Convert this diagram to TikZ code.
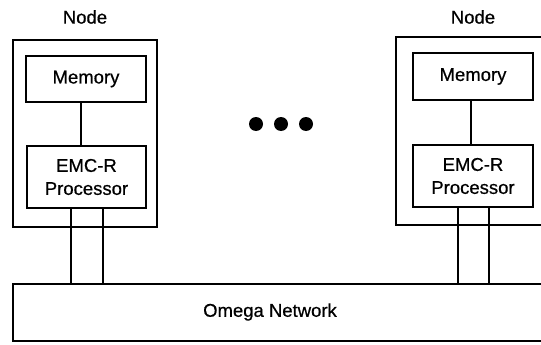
\documentclass[tikz,border=0pt]{standalone}
\usepackage{fontspec}
\setmainfont{Liberation Sans}[FakeBold=0.6]
\begin{document}
\begin{tikzpicture}[x=1pt,y=-1pt,
  box/.style={draw,line width=1.2pt,rectangle,inner sep=0pt},
  lbl/.style={font=\fontsize{18.5}{23}\selectfont,align=center,inner sep=0pt},
  wire/.style={line width=1.3pt},
  dot/.style={circle,fill=black,inner sep=0pt,minimum size=14pt}]
\useasboundingbox (0,0) rectangle (541,345);
\clip (0,0) rectangle (541,345);

% left node
\node[lbl] (lname) at (85,17) {Node};
\node[box,minimum width=144pt,minimum height=187pt] (lnode) at (85,133.5) {};
\node[box,lbl,minimum width=120pt,minimum height=46pt] (lmem) at (86,79) {Memory};
\node[box,lbl,minimum width=119pt,minimum height=62pt] (lproc) at (86.5,177) {EMC-R\\Processor};

% right node (runs past the right edge)
\node[lbl] (rname) at (473,17) {Node};
\node[box,minimum width=160pt,minimum height=188pt] (rnode) at (476,131) {};
\node[box,lbl,minimum width=120pt,minimum height=47pt] (rmem) at (473,76.5) {Memory};
\node[box,lbl,minimum width=120pt,minimum height=62pt] (rproc) at (473,176) {EMC-R\\Processor};

% ellipsis between the nodes
\node[dot] (d1) at (256,124) {};
\node[dot] (d2) at (281,124) {};
\node[dot] (d3) at (306,124) {};

% interconnect
\node[box,minimum width=547pt,minimum height=57pt] (net) at (286.5,312.5) {};
\node[lbl] (netlabel) at (270,312) {Omega Network};

% memory-processor links
\coordinate (lm) at (81,0);
\coordinate (rm) at (471,0);
\draw[wire] (lmem.south -| lm) -- (lproc.north -| lm);
\draw[wire] (rmem.south -| rm) -- (rproc.north -| rm);

% processor-network links
\coordinate (la) at (71,0);
\coordinate (lb) at (103,0);
\coordinate (ra) at (458,0);
\coordinate (rb) at (489,0);
\draw[wire] (lproc.south -| la) -- (net.north -| la);
\draw[wire] (lproc.south -| lb) -- (net.north -| lb);
\draw[wire] (rproc.south -| ra) -- (net.north -| ra);
\draw[wire] (rproc.south -| rb) -- (net.north -| rb);
\end{tikzpicture}
\end{document}
